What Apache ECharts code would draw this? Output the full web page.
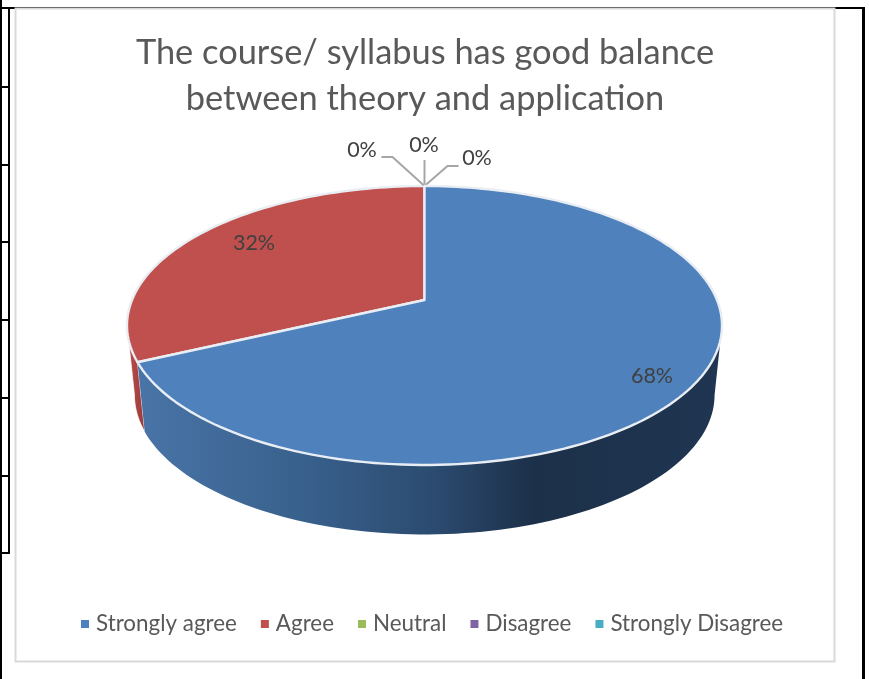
<!DOCTYPE html>
<html><head><meta charset="utf-8">
<style>html,body{margin:0;padding:0;background:#fff}#c{width:869px;height:679px}</style>
<script src="https://cdn.jsdelivr.net/npm/echarts@6/dist/echarts.min.js"></script>
</head><body><div id="c"></div>
<script>
const categories = ['Strongly agree','Agree','Neutral','Disagree','Strongly Disagree'];
const values = [68,32,0,0,0];
const colors = ['#4F81BD','#C0504D','#9BBB59','#8064A2','#4BACC6'];
const titleLines = ['The course/ syllabus has good balance','between theory and application'];

const FONT='Lato';
const cx=424.5, cy=300, A=292.5, H=134.8, K=0.1828, DEPTH=69.5, TAPER=0.975;
const FRONT=[100.5,259.5];
const total=values.reduce((a,b)=>a+b,0);
function proj(deg,dy){const t=deg*Math.PI/180,u=Math.sin(t),v=Math.cos(t),w=1+K*v;
  const s=dy?TAPER:1;
  return [cx+s*A*u/w, cy-H*v/w+(dy||0)];}
function arc(a0,a1,dy){const n=Math.max(2,Math.ceil(Math.abs(a1-a0)/1.5)),p=[];
  for(let i=0;i<=n;i++)p.push(proj(a0+(a1-a0)*i/n,dy));return p;}
const sideFill=[
 new echarts.graphic.LinearGradient(130,0,722,0,[
  {offset:0,color:'#4a75a8'},{offset:.3,color:'#38608c'},{offset:.52,color:'#2b4a6f'},
  {offset:.68,color:'#1c3049'},{offset:1,color:'#1f3551'}],true),
 new echarts.graphic.LinearGradient(126,0,146,0,[
  {offset:0,color:'#c0504d'},{offset:1,color:'#96383a'}],true)
];
const labelPos=[[652,376],[254,243],null,null,null];
const leaders=[null,null,[[-32,-29],[-43,-29]],[[0,-26]],[[23,-20],[34,-20]]];
const leaderLabel=[null,null,[362,150],[424,145],[477,158]];

function render(i){return function(params,api){
  const val=api.value(0);
  let start=0;for(let k=0;k<i;k++)start+=values[k]/total*360;
  const end=start+val/total*360;
  const pct=Math.round(val/total*100)+'%';
  const ch=[];
  const textStyle=(p)=>({x:p[0],y:p[1],text:pct,fill:'#404040',fontFamily:FONT,fontSize:21.5,align:'center',verticalAlign:'middle'});
  if(val>0){
    const s0=Math.max(start,FRONT[0]),s1=Math.min(end,FRONT[1]);
    if(s1>s0){
      const pts=arc(s0,s1,0).concat(arc(s1,s0,DEPTH));
      ch.push({type:'polygon',shape:{points:pts},style:{fill:sideFill[i]||colors[i],stroke:i===1?'rgba(255,255,255,.75)':null,lineWidth:1}});
    }
    const top=[[cx,cy]].concat(arc(start,end,0));
    ch.push({type:'polygon',shape:{points:top},style:{fill:colors[i],stroke:'#e9eef4',lineWidth:2.4,lineJoin:'round'}});
    ch.push({type:'text',style:textStyle(labelPos[i])});
  }else{
    const a=proj(start,0);
    const pts=[a].concat(leaders[i].map(o=>[a[0]+o[0],a[1]+o[1]]));
    ch.push({type:'polyline',shape:{points:pts},style:{stroke:'#a6a6a6',lineWidth:2,fill:null}});
    ch.push({type:'text',style:textStyle(leaderLabel[i])});
  }
  return {type:'group',children:ch};
};}

const chart=echarts.init(document.getElementById('c'),null,{renderer:'canvas'});
const black='#000';
const frame=[
 [0,7,863,2],[0,0,2,679],[8,7,2,547],[2,86,8,2],[2,164,8,2],[2,241,8,2],[2,319,8,2],[2,397,8,2],[2,475,8,2],[2,552,8,2],[862,7,3,672]
].map(r=>({type:'rect',shape:{x:r[0],y:r[1],width:r[2],height:r[3]},style:{fill:black},silent:true,z:-10}));
frame.push({type:'rect',shape:{x:15.5,y:8.5,width:819,height:653},style:{fill:'#fff',stroke:'#d9d9d9',lineWidth:2},silent:true,z:-9});

chart.setOption({
  animation:false,
  backgroundColor:'#fff',
  graphic:{elements:frame},
  title:{text:titleLines.join('\n'),left:420,top:25,textAlign:'center',
    textStyle:{fontFamily:FONT,fontSize:34.4,fontWeight:'normal',color:'#595959',lineHeight:46}},
  legend:{data:categories,left:76,top:608,icon:'rect',itemWidth:8,itemHeight:8,itemGap:24,
    textStyle:{fontFamily:FONT,fontSize:22.4,color:'#595959',padding:[0,0,0,2]}},
  tooltip:{show:false},
  series:categories.map((name,i)=>({
    type:'custom',name,coordinateSystem:'none',silent:true,
    z:i===0?3:2,
    itemStyle:{color:colors[i]},
    data:[[values[i]]],
    renderItem:render(i)
  }))
});
</script></body></html>
